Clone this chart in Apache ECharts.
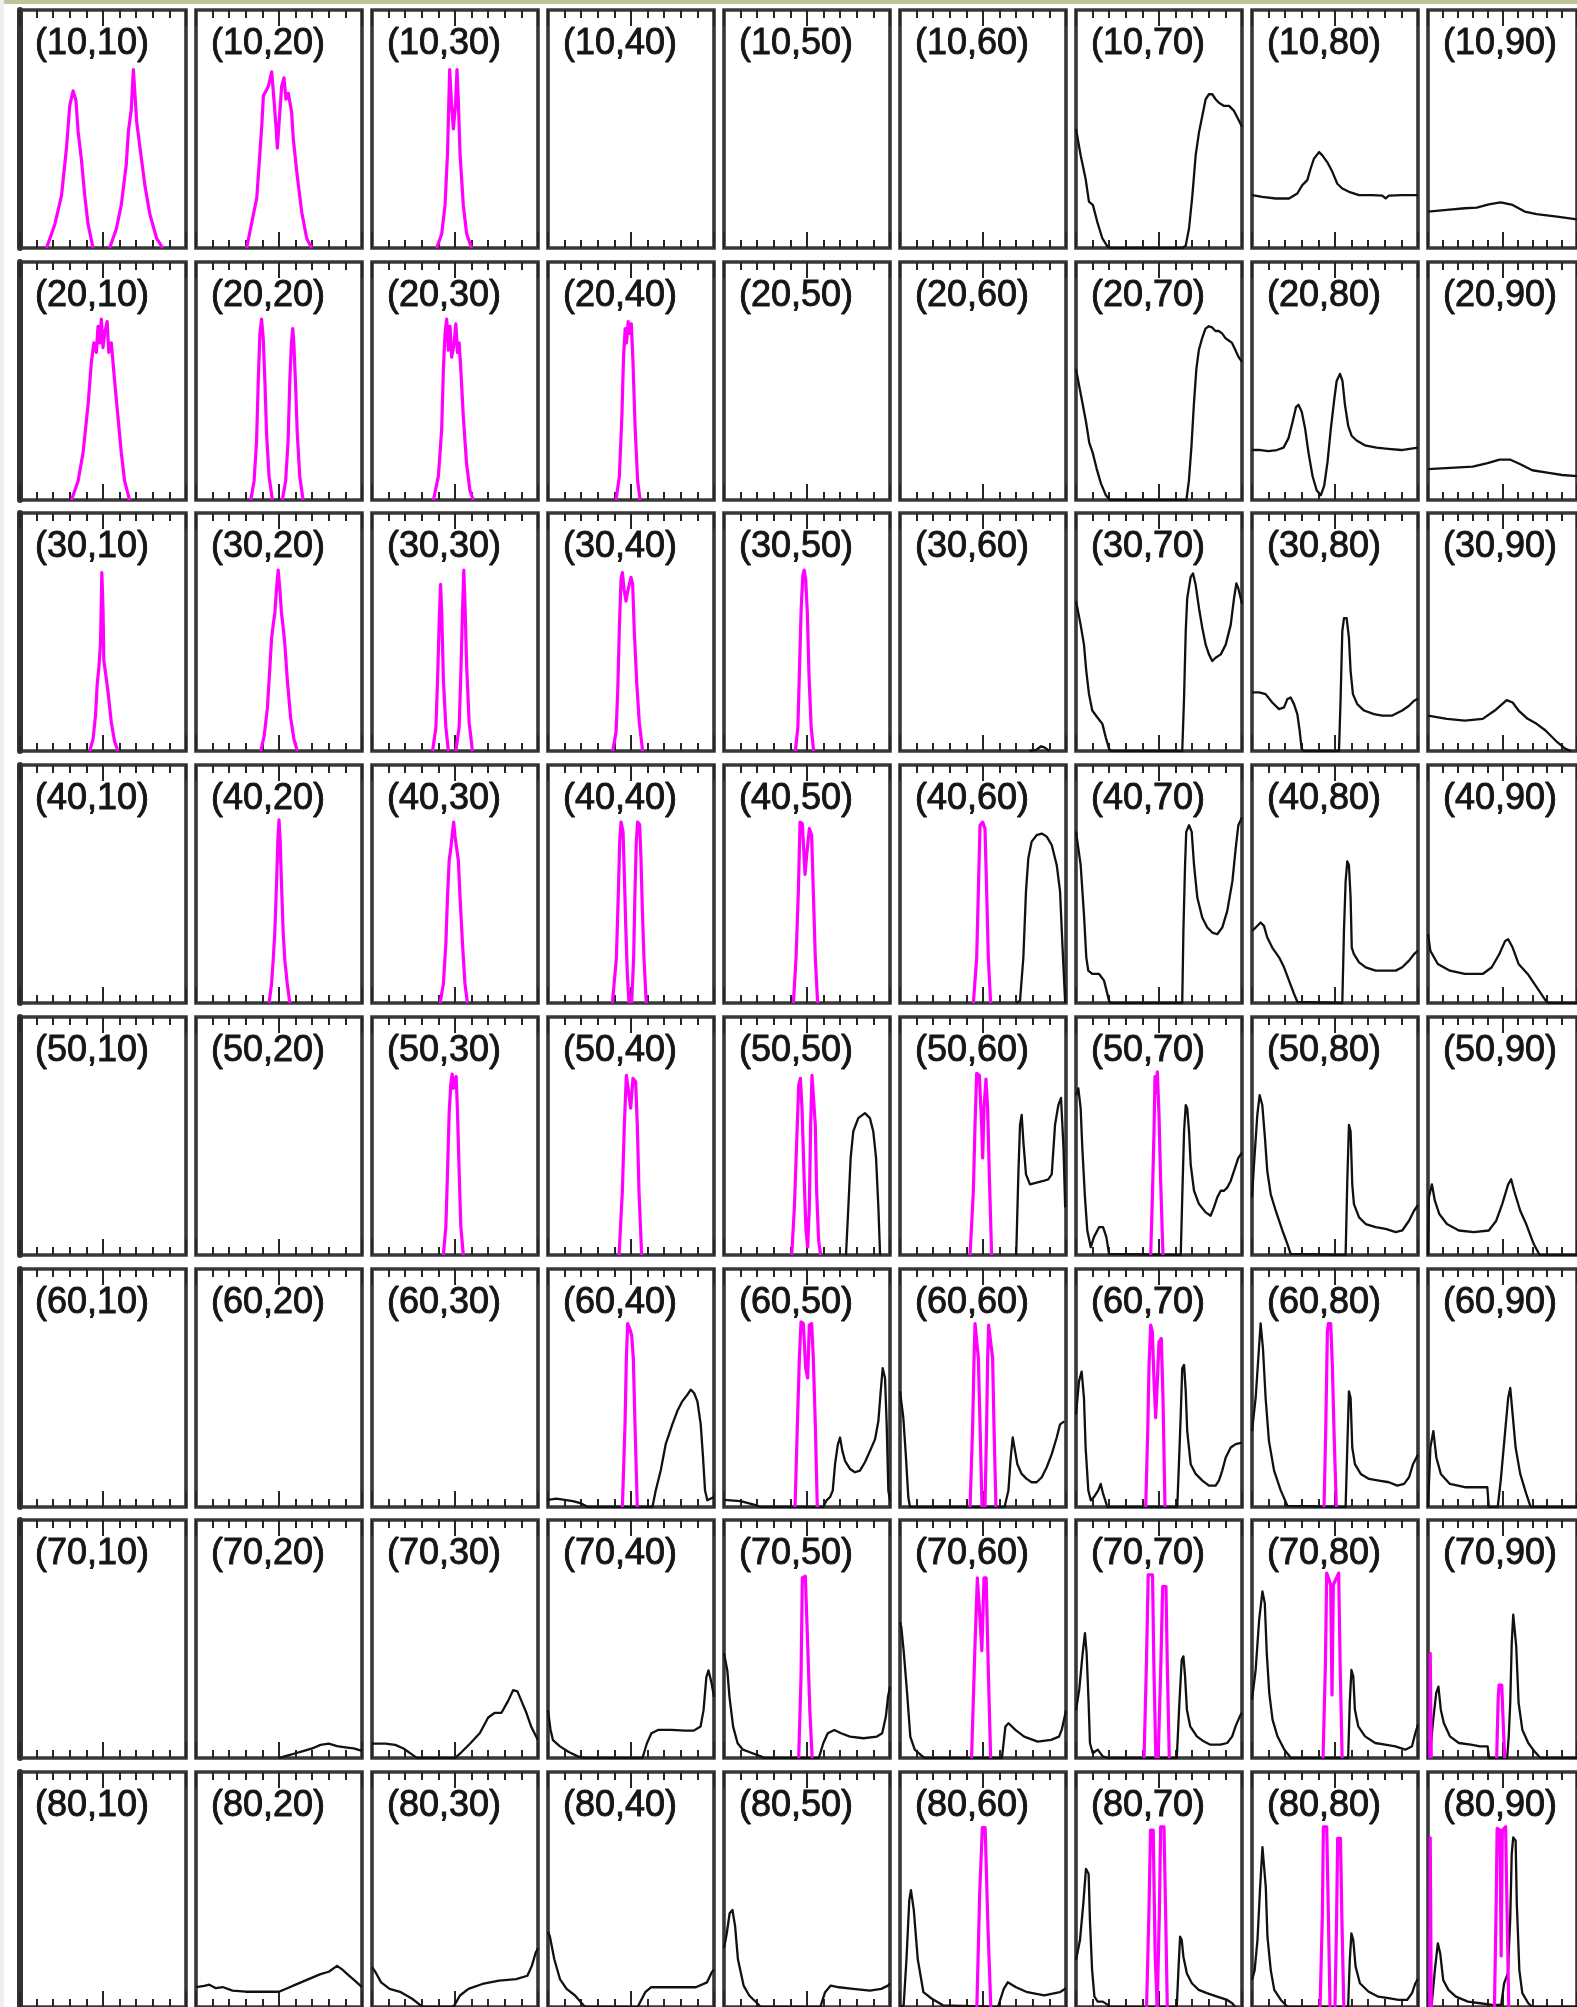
<!DOCTYPE html>
<html>
<head>
<meta charset="utf-8">
<script src="https://cdn.jsdelivr.net/npm/echarts@6/dist/echarts.min.js"></script>
<style>
  html, body { margin: 0; padding: 0; background: #ffffff; }
  #chart { width: 1577px; height: 2007px; }
</style>
</head>
<body>
<div id="chart"></div>
<script>
// Panel grid: rows and columns of (row,col) settings
const rowVals = [10, 20, 30, 40, 50, 60, 70, 80];
const colVals = [10, 20, 30, 40, 50, 60, 70, 80, 90];

// Curves: [x, y] in percent of panel width / height. m_* magenta, k_* black.
// row 10
const m_10_10a = [[16,0],[21,10],[25,22],[28,42],[30,60],[32,66],[33.7,62],[35,49],[37,37],[39,22],[41,10],[44,0]];
const m_10_10b = [[54,0],[58,8],[61,18],[64,35],[65.3,49],[67,58],[68.3,75],[69.3,64],[70.3,53],[72.3,42],[75.3,26],[78.3,14],[82.3,4],[86,0]];
const m_10_20 = [[30.5,0],[36.6,21],[39.6,51],[40.6,64],[43.6,68],[45.6,74],[47,62],[48.2,51],[49,42],[50.2,54],[51.6,68],[53,71.5],[54.2,62.5],[55.6,65],[57.6,57],[58.6,46],[60.7,32],[63.7,15],[66.7,4],[69.7,0]];
const m_10_30 = [[39,0],[42,6],[44,18],[45.5,40],[46.3,62],[46.8,75],[47.8,62],[49,50],[50.3,60],[51.2,75],[52,62],[53,40],[55,18],[57,6],[60,0]];
const k_10_70 = [[0,50],[2.8,39],[5.8,29],[7.8,19.5],[10.2,18],[12.8,11],[15.9,4],[18.9,0.7],[21,0],[64,0],[66.1,1],[68.1,8.3],[70.1,22],[72.1,39],[74.1,48.6],[76.1,55.6],[78.1,62.5],[80.1,64.6],[82.1,64.6],[84.1,62.5],[86.1,61],[89.2,59.7],[92.2,59.7],[95.2,57.6],[98.2,53.5],[100,51]];
const k_10_80 = [[0,22.2],[6.2,21.5],[14.3,20.8],[22.3,20.8],[27.3,22.9],[30.3,26.4],[33.3,28.5],[35.3,33.3],[37.3,37.5],[40.4,40.3],[42.4,38.9],[45.4,36],[48.4,32],[51.4,27],[54.4,25],[58.4,23.6],[64.5,22.2],[72.5,22.2],[78.5,22],[80.5,20.8],[82.5,22],[90.5,22.2],[100,22.2]];
const k_10_90 = [[0,15.3],[12.7,16],[24.7,16.7],[32.7,17],[40.8,18.3],[48.8,19.2],[56.8,18.1],[64.9,15.3],[72.9,14.2],[86.6,13.2],[100,12]];
// row 20
const m_20_10 = [[31,0],[35,8],[38,20],[41,40],[43,58],[44.5,66],[46,62],[47,73],[48,66],[49,76],[50,64],[51,70],[52.5,75],[53.5,62],[55,66],[57,50],[59,35],[61,20],[63,8],[66,0]];
const m_20_20a = [[33,0],[35,8],[36.5,25],[37.5,50],[38.5,70],[39.5,76],[40.5,68],[41.5,50],[42.5,28],[44,10],[46,0]];
const m_20_20b = [[52,0],[54,8],[55.5,25],[56.5,50],[57.5,66],[58.3,72],[59,65],[60,48],[61,28],[62.5,10],[64.5,0]];
const m_20_30 = [[37,0],[40,10],[42,30],[43,55],[44,70],[45,76],[46,63],[47,73],[48,60],[49.5,66],[50.5,74],[51.5,62],[52.5,66],[53.5,55],[55,35],[57,15],[59,4],[61,0]];
const m_20_40 = [[41,0],[43,10],[44.5,35],[45.5,60],[46.5,72],[47.3,66],[48.3,75],[49.2,70],[50.2,74],[51.2,58],[52.5,30],[54,8],[55.5,0]];
const k_20_70 = [[0,55],[3,44],[6,33],[8,24],[10,20],[12.5,13],[15,7],[18,2],[20.5,0],[66.5,0],[68,8],[69.5,22],[71,40],[72.5,55],[74,63],[76,68],[78,72],[80,73],[82,72.5],[84,71],[86,71],[88,70],[90,68],[92,67],[94,66],[96,63],[98,60],[100,58]];
const k_20_80 = [[0,21],[5,21],[10,20.5],[15,21],[19,22],[22,26],[24.5,33],[26.5,39],[28,40],[30,37],[32,30],[34,20],[36.5,10],[39,4],[41.5,2],[43.5,6],[45.5,16],[47.5,30],[49.5,42],[51,50],[53,53],[54.5,50],[56,40],[58,31],[60,27],[63,25],[68,23],[75,22],[82,21.5],[90,21],[100,22]];
const k_20_90 = [[0,13],[15,13.5],[30,14],[40,15.5],[48,17],[55,17],[62,15],[70,12.5],[80,11.5],[90,10.5],[100,10]];
// row 30
const m_30_10 = [[42,0],[44,5],[45.5,15],[46.5,28],[47.5,35],[48.5,45],[49.3,75],[50,60],[50.5,38],[51.5,33],[53,25],[55,12],[57,4],[59,0]];
const m_30_20 = [[39,0],[41,6],[43,18],[44.5,35],[45.5,47],[46.5,53],[47.5,58],[48.5,68],[49.5,76],[50.5,68],[51.5,58],[52.5,52],[53.5,45],[55,30],[57,14],[59,5],[61,0]];
const m_30_30a = [[36.5,0],[38.5,10],[39.5,30],[40.5,55],[41.3,70],[42,58],[43,30],[44.5,10],[46,0]];
const m_30_30b = [[50.5,0],[52.5,10],[53.5,32],[54.5,58],[55.3,76],[56,62],[57,36],[58.5,12],[60.5,0]];
const m_30_40 = [[39,0],[41,8],[42,25],[43,52],[44,72],[44.8,75],[45.8,68],[47,63],[48,67],[49,70],[50,73],[51,70],[52,50],[53.5,28],[55,12],[57,0]];
const m_30_50 = [[43,0],[44.5,10],[45.5,35],[46.5,60],[47.5,74],[48.3,76],[49.2,72],[50.2,58],[51.2,32],[52.5,10],[54,0]];
const k_30_60 = [[78,0],[82,0.5],[85,2],[87,1.5],[90,0]];
const k_30_70 = [[0,63],[2.8,53],[4.8,44.7],[6.2,33.6],[7.8,24],[9.8,17],[12.8,14.2],[15.9,11.4],[17.9,5.8],[19.9,1],[21,0],[64,0],[65.1,22.5],[66.1,50.3],[67,64.2],[69.1,73.2],[70.5,74.6],[72.1,69.7],[74.1,60],[76.1,51.7],[78.1,44.7],[80.1,40.6],[82.1,37.8],[84.1,39.2],[87.2,40.6],[90.2,44.7],[93.2,53],[95.2,64.2],[96.6,70.4],[97.8,68.3],[100,62]];
const k_30_80 = [[0,24.6],[4.2,24.6],[8.2,23.9],[12.2,20.4],[16.3,17.6],[19.3,18.3],[21.3,21.8],[23.3,22.5],[25.3,19.7],[27.3,15.5],[28.7,8.6],[29.9,1],[31,0],[52.4,0],[53.4,22.5],[54.4,50.3],[55.4,55.8],[57,55.8],[58.4,47.5],[59.4,33.6],[60.8,23.9],[63.4,19.7],[67.5,17],[73.5,15.5],[78.5,14.9],[84.5,14.9],[90.5,17],[94.6,19],[97.6,21.1],[100,22]];
const k_30_90 = [[0,14.9],[12.7,13.5],[24.7,12.8],[36.7,13.5],[44.8,17],[52.8,21.4],[56.8,20.4],[60.8,17],[66.9,13.5],[72.9,11.4],[78.9,8.6],[86.6,3.8],[92,1],[96,0]];
// row 40
const m_40_20 = [[44,0],[45.5,8],[46.5,18],[47.5,30],[48.5,50],[49.3,68],[50,77],[50.7,68],[51.5,50],[52.5,30],[53.5,18],[55,8],[56.5,0]];
const m_40_30 = [[41,0],[43,8],[44.5,25],[45.5,45],[46.5,60],[47.5,65],[48.5,72],[49.2,76],[50,70],[51,65],[52,60],[53,45],[54.5,25],[56,8],[57.5,0]];
const m_40_40a = [[38.8,0],[41.2,19],[42.4,47],[43.2,68],[44,76],[45.2,72],[46,54],[46.8,33],[47.8,12],[48.8,0]];
const m_40_40b = [[50.4,0],[51.6,19],[52.4,47],[53.2,68],[54,76],[55.2,75],[56,61],[56.8,40],[57.8,19],[59.2,0]];
const m_40_50 = [[41.8,0],[43.4,19],[44.8,47],[45.8,76],[47.2,75.4],[48.8,54],[49.8,62],[51.4,73.3],[52.8,70.5],[53.8,47],[55,19],[56.4,0]];
const m_40_60 = [[44.2,0],[46.2,19],[47.2,47],[48.2,74.7],[49.8,76],[51.2,73.3],[52.2,47],[53.2,19],[54.6,0]];
const k_40_60 = [[70,0],[72.3,1],[74.3,19],[75.9,47],[77.3,60.8],[79.3,67.8],[82.3,70.5],[85.4,71.2],[88.4,69.9],[91.4,66.4],[94.4,58],[96.4,47],[98,22],[99.5,0]];
const k_40_70 = [[0,72],[2.8,58],[4.8,37.2],[6.2,19.2],[7.4,13.6],[9.8,12.2],[13.9,12.2],[16.9,9.4],[19.9,1],[21,0],[64,0],[64.7,30.3],[65.7,58],[66.4,71.9],[68.1,74.7],[69.7,71.9],[71.1,58],[73.1,44.2],[76.1,35.8],[79.1,31.7],[82.1,29.6],[85.1,28.9],[88.1,31.7],[91.1,38.6],[94.2,51.1],[96.2,65],[97.8,74.7],[100,78]];
const k_40_80 = [[0,30.3],[2.2,31.7],[5.2,33.8],[7.2,32.4],[9.2,27.5],[12.2,23.3],[16.3,19.2],[19.3,15],[22.3,9.4],[25.3,3.9],[27.3,0.5],[28,0],[54.4,0],[55.4,30.3],[56.4,51.1],[57.4,59.5],[58.4,58],[59.4,44.2],[60.1,23.3],[61.4,20.5],[64.5,17.1],[68.5,15],[74.5,13.6],[80.5,13.6],[86.6,13.6],[90.5,15],[94.6,17.8],[97.6,20.5],[100,22]];
const k_40_90 = [[0,28.9],[1.6,21.9],[6.6,16.4],[14.7,13.6],[24.7,12.2],[36.7,12.2],[42.8,15],[47.8,20.5],[51.8,26.1],[53.8,26.8],[56.8,23.3],[60.8,16.4],[66.9,12.2],[72.9,6.7],[78.9,1.1],[81,0],[100,0]];
// row 50
const m_50_30 = [[43,0],[44.5,12],[45.5,35],[46.5,60],[47.5,72],[48.3,76],[49,70],[49.8,74],[50.7,75],[51.5,60],[52.5,35],[53.5,12],[55,0]];
const m_50_40 = [[42.8,0],[44.8,27],[46,54.7],[47.2,75.5],[48.4,76.3],[49.8,61.7],[51.2,74.2],[52.8,72.8],[53.8,54.7],[54.8,27],[56.4,0]];
const m_50_50 = [[40.8,0],[42.4,20],[43.8,47.8],[45,71.4],[46,74.2],[47,61.7],[48.2,33.9],[49.4,10.3],[50.4,3.3],[51.4,20],[52.2,54.7],[53,75.5],[54.2,76.3],[55,54.7],[55.8,27],[57,6.1],[58.2,0]];
const k_50_50 = [[73.5,0],[74.9,20],[76.3,40.8],[77.9,52],[80.9,57.5],[84.9,59.6],[87.9,57.5],[89.9,52],[91.6,40.8],[93,20],[94,0.5],[94.5,0]];
const m_50_60 = [[42.2,0],[44.2,27],[45.2,54.7],[46.2,76.3],[47.8,75.5],[49.2,54.7],[49.8,40.8],[50.6,61.7],[51.8,73.9],[52.8,61.7],[53.8,33.9],[55.2,0]];
const k_50_60 = [[70,0],[71.3,33.9],[72.3,54.7],[73.3,58.9],[74.3,47.8],[75.9,33.9],[78.3,29.7],[82.3,30.4],[86.3,31.1],[89.3,31.8],[91.4,33.9],[93.4,54.7],[95.4,63],[97,66],[98.5,45],[99.5,20]];
const m_50_70 = [[45,0],[46,24],[47,52],[47.6,75],[48.3,68],[49,77],[50,59],[51,31],[52.4,0]];
const k_50_70 = [[0,67.2],[1.4,70],[2.8,61.7],[3.8,45],[5.4,24.2],[6.8,10.3],[8.9,3.3],[10.8,7.5],[13.9,11.7],[16.3,11.7],[18.3,7.5],[19.9,0.5],[21,0],[63.1,0],[64,24.2],[65.1,51.9],[66.1,63],[67,61.7],[68.1,51.9],[69.1,38],[71.1,27],[74.1,21.4],[78.1,17.9],[81.1,16.5],[83.1,20],[85.1,24.2],[87.2,27],[89.2,27],[91.1,28.3],[93.2,31.1],[95.2,35.3],[97.8,40.8],[100,43]];
const k_50_80 = [[0,24.2],[1.2,38],[3.2,58.9],[4.6,67.2],[6.2,63],[7.8,49.2],[9.2,35.3],[11.3,25.5],[14.3,18.6],[18.3,10.3],[21.3,4.7],[23.3,0.5],[24,0],[56.4,0],[57.4,31.1],[58.4,54.7],[59.4,51.9],[60.4,29.7],[61.4,21.4],[64.5,15.8],[68.5,13],[74.5,11.7],[80.5,11],[86.6,9.6],[90.5,10.3],[94.6,14.4],[97.6,18.6],[100,21]];
const k_50_90 = [[0,0],[0.6,24.2],[2.6,29.7],[4.6,22.8],[7.6,17.2],[12.7,13],[20.7,10.3],[30.7,9.6],[40.8,10.3],[45.8,14.4],[49.8,21.4],[53.8,29.7],[55.8,31.8],[57.8,27],[61.9,18.6],[65.9,13],[70.9,4.7],[74.9,0],[100,0]];
// row 60
const k_60_40 = [[0,3],[5,3.5],[10,3],[15,2.5],[20,1.5],[24,0],[62.9,0],[64.9,6.9],[67.9,15.3],[70.9,26.4],[72.9,30.5],[74.9,34.7],[77.9,40.3],[80.9,44.4],[84,47.2],[86,49.3],[88,47.9],[90,44.4],[92,34.7],[93.4,20.8],[94.6,6.9],[96,2.8],[100,4.2]];
const m_60_40 = [[44.8,0],[46.4,34.7],[47.2,62.5],[48,77.1],[49.2,75],[50.4,72.2],[51.4,62.5],[52.4,34.7],[53.8,0]];
const k_60_50 = [[0,3],[10,2.5],[18,1],[22,0],[59.8,0],[61.8,2.8],[63.9,4.2],[65.5,6.9],[66.9,18],[68.5,26],[69.9,29.2],[71.3,23.6],[72.9,19.4],[75.9,16],[78.9,14.6],[81.9,15.3],[84.9,18.8],[88,23.6],[91,28.5],[93,36.1],[94.4,48.6],[95.6,58.3],[97,54.2],[98,34.7],[99,6.9],[100,2.8]];
const m_60_50 = [[42.8,0],[44.2,34.7],[45.4,62.5],[46.4,77.8],[47.8,77.1],[49.2,58.3],[50.4,54.2],[51.4,76.4],[52.8,77.1],[53.8,62.5],[55,34.7],[56.2,0]];
const k_60_60 = [[0,48.6],[2,37.5],[3.6,20.8],[5,4.2],[6,0],[63,0],[65.3,6.9],[66.7,20.8],[67.9,29.2],[69.3,23.6],[70.7,18],[73.3,13.9],[76.3,11.8],[79.3,10.4],[82.3,10.4],[85.4,12.5],[88.4,16.7],[91.4,22.2],[94.4,29.2],[96.4,34.7],[99,36]];
const m_60_60a = [[42.2,0],[43.8,34.7],[44.6,62.5],[45.2,77.1],[46.2,76.4],[47.2,62.5],[48.2,34.7],[49.4,0]];
const m_60_60b = [[51.2,0],[52.2,34.7],[52.8,62.5],[53.4,76.4],[54.6,76.4],[55.8,62.5],[56.6,34.7],[57.8,0]];
const k_60_70 = [[0,38.9],[1.8,52.8],[3.4,56.9],[4.8,45.8],[5.8,25],[7.4,7],[8.9,2.8],[10.8,4.2],[13.4,7],[14.9,9.7],[16.3,5.6],[18.9,0],[61,0],[62,18],[63.1,38.9],[64,58.3],[65.1,59.7],[66.1,48.6],[67,31.9],[69.1,18],[72.1,13.9],[76.1,11.1],[80.1,9],[84.1,9],[86.1,11.1],[88.1,15.3],[90.2,20.8],[93.2,25],[96.2,26.4],[100,27]];
const m_60_70 = [[42,0],[43.2,31.9],[44,59.7],[45,76.4],[46,73.6],[47,52.8],[48,37.5],[49,52.8],[50,69.4],[51.4,70.8],[52.4,45.8],[53.6,0]];
const k_60_80 = [[0,31.9],[2.2,45.8],[4.2,66.7],[5.2,77.1],[6.6,66.7],[8.2,45.8],[10.2,27.8],[13.3,15.3],[17.3,7],[21.3,0.5],[22,0],[56.4,0],[57.4,25],[58.4,48.6],[59.4,45.8],[60.4,25],[62,18],[65.5,13.9],[70.5,11.8],[76.5,11.1],[82.5,10.4],[87.5,9],[91.6,9.7],[94.6,12.5],[97,18],[100,22]];
const m_60_80 = [[43.4,0],[44.4,31.9],[45.4,73.6],[46,77.1],[47.4,77.1],[48.4,59.7],[49.4,31.9],[50.8,0]];
const k_60_90 = [[0,0],[1.6,25],[3.6,31.9],[5.6,20.8],[8.6,13.9],[14.7,9.7],[24.7,8.3],[32.7,8.3],[39.8,8.3],[40.8,0],[46.8,0],[48.8,11.1],[51.8,31.9],[53.8,45.8],[55.2,50],[56.8,38.9],[58.8,25],[61.9,13.9],[65.9,5.6],[68.9,0],[100,0]];
// row 70
const k_70_20 = [[50,0],[55,1],[60,2],[65,3],[70,4],[75,5.5],[80,6],[85,5],[90,4.5],[95,4],[100,3]];
const k_70_30 = [[0,6],[8,6],[14,5.5],[19,4],[24,1.5],[27,0],[50,0],[54,2.5],[59,6],[65,10.5],[70,17],[74,19],[78,19],[82,24],[85,28.5],[87.6,28],[90,24],[93,19],[96,13],[100,7.5]];
const k_70_40 = [[0,20],[1.5,12],[3,7.5],[7,5],[12.5,2.5],[18,0.7],[22,0],[56.9,0],[59.6,6.2],[62.3,10.4],[66.3,11.8],[74.4,11.8],[82.5,11.5],[87.8,11.5],[91.9,13.2],[93.7,20.1],[95.4,34],[96.7,36.8],[98.6,31.3],[100,25.7]];
const k_70_50 = [[0,44],[2,36.8],[3.3,25.7],[5.5,13.2],[8.2,6.2],[11.4,3.5],[16.8,2.1],[22.2,0.7],[24,0],[57.1,0],[59.8,6.2],[62.5,10.4],[66.5,11.8],[70.5,10.4],[75.9,9],[84,8.3],[92.1,9],[95.3,10.4],[97.5,17.4],[98.8,25.7],[100,30]];
const m_70_50 = [[45,0],[46.4,34],[47.2,75.7],[49,76.4],[50.4,47.9],[51.7,20.1],[53.1,0]];
const k_70_60 = [[0,57],[0.8,54.9],[2.2,45.1],[4.3,27.1],[6.2,9],[8.9,3.5],[13,1],[15,0],[61.4,0],[63.5,13.2],[65.4,14.6],[69.5,11.8],[74.8,9],[82.9,6.9],[91,7.6],[95.8,9],[97.5,12],[100,20]];
const m_70_60 = [[43.1,0],[45.2,47.9],[46.6,75.7],[47.9,61.8],[49.3,45.1],[50.6,75.7],[51.9,75.7],[53.3,34],[54.6,0]];
const k_70_70 = [[0,20],[2,29],[4,44],[5.4,52.5],[6.4,44],[7.6,23.3],[8.4,6.3],[10.1,2],[13.1,3.5],[16.1,0.7],[19.2,0],[60.7,0],[62.3,23.3],[63.7,41.3],[64.7,42.7],[65.7,34.3],[66.8,20.3],[68.8,13.3],[72.8,9.1],[76.9,7],[80.9,5.6],[87,5.6],[91.1,6.3],[94.1,9.1],[96.1,13.3],[98.7,17.5],[100,19]];
const m_70_70a = [[41,0],[42.4,39],[43.5,77],[46.1,77],[46.9,39],[48.1,0]];
const m_70_70b = [[49.5,0],[51.1,39],[52.2,72],[54.2,72],[55,39],[56.2,0]];
const k_70_80 = [[0,24.5],[2.2,37],[4.3,58],[6.3,70],[7.7,65],[8.9,44],[10.4,27.3],[12.4,16],[15.4,9],[19.5,3.5],[23.5,0],[57.9,0],[58.9,23.3],[59.9,37],[61,34.3],[62,20.3],[64,13.3],[68.1,9.1],[74.2,6.3],[80.2,5.6],[86.3,4.9],[92.4,3.5],[96.4,4.9],[98.4,10.5],[100,14]];
const m_70_80 = [[42.8,0],[44.2,39],[45,77.7],[47.4,72.8],[48.2,26.5],[49,72.8],[52.2,77.7],[53.1,39],[54.3,0]];
const k_70_90 = [[0,0],[1.5,3],[3.5,16],[5.5,27.3],[7,30],[8.6,20.3],[10.6,14.7],[14.7,9.1],[20.7,6.3],[28.8,5.6],[34.9,4.9],[40,4.9],[41,0],[53.1,0],[54.2,9.1],[55.2,23.3],[56.2,48.3],[57.2,60.2],[58.2,59.5],[59.2,47],[60.8,23.3],[63.3,11.9],[67.3,6.3],[71.4,2.8],[75.4,0],[100,0]];
const m_70_90a = [[1.2,0],[1.5,44],[2.2,0]];
const m_70_90b = [[46.1,0],[47.1,25.3],[47.7,30.6],[49.5,30.6],[50.7,11.1],[51.5,0]];
// row 80
const k_80_20 = [[0,8.5],[5,9],[8,9.5],[12,8],[16,8.5],[22,7],[30,6.5],[40,6.5],[50,6.5],[55,8],[60,9.5],[65,11],[70,12.5],[75,14],[80,15],[85,17.5],[88,16],[92,13.5],[96,11],[100,8.5]];
const k_80_30 = [[0,17],[2.2,14.7],[5.5,10.5],[10.6,7.7],[17.4,6.3],[24.2,3.5],[29.3,0.7],[31,0],[48,0],[49.6,0.7],[53,4.9],[58.1,7.7],[66.5,9.8],[76.6,11.2],[86.8,11.9],[93.6,13.3],[96.3,17.5],[98.6,23.1],[100,25]];
const k_80_40 = [[0,32],[1.1,30.1],[3.8,20.3],[7.2,11.9],[11.2,7.7],[16.3,4.9],[21.4,0.7],[23,0],[54,0],[55.2,0.7],[58.6,6.3],[62,8.4],[68.8,8.4],[78.9,8.4],[89.1,8.4],[95.8,10.5],[98.6,14.7],[100,16]];
const k_80_50 = [[0,25],[1.7,31.5],[3.4,39.9],[5.1,41.3],[6.7,34.3],[8.4,20.3],[11.8,9.1],[15.2,4.9],[20.3,1.4],[22,0],[58,0],[59.2,0.7],[60.9,6.3],[64.3,9.1],[69.3,8.4],[77.8,7.7],[87.9,7],[94.7,7.7],[98.8,9.1],[100,10]];
const k_80_60 = [[0,0],[2.2,0.7],[3.9,20.3],[5.6,45.5],[6.6,49.7],[8.3,41.3],[10.7,20.3],[14.1,6.3],[19.2,3.5],[25.9,0.7],[27,0],[59,0],[59.8,0.7],[62.5,7.7],[64.9,10.5],[69.9,8.4],[76.7,6.3],[86.9,4.9],[96.3,6.3],[100,8]];
const m_80_60 = [[46.3,0],[48,48.3],[49.6,76.3],[51.3,76.3],[53,33.6],[54.7,0]];
const k_80_70 = [[0,20],[2.4,28.5],[4.4,44],[6,58.8],[7.6,56.7],[8.4,37],[9.7,15.7],[11.1,4.4],[13.1,2.3],[16.1,2.3],[19.2,0.9],[20,0],[60.7,0],[61.7,15.7],[62.7,29.9],[63.7,28.5],[64.7,21.4],[66.8,14.3],[69.8,10.1],[73.9,7.3],[78.9,5.9],[85,4.4],[91.1,3],[94.1,1.6],[96,0]];
const m_80_70a = [[42.5,0],[43.9,39.4],[44.9,75.3],[46.5,75.3],[47.7,21.7],[48.9,0]];
const m_80_70b = [[48.9,0],[50.2,39.4],[51,76.7],[53,76.7],[54,39.4],[55,0]];
const k_80_80 = [[0,11.5],[1.6,15.7],[3.3,28.5],[4.9,51],[6.3,68],[7.3,68.7],[8.3,51],[9.3,29.9],[11.3,15.7],[13.4,7.3],[17.4,3],[21.5,0],[57.9,0],[58.9,20],[59.9,31.3],[61,28.5],[62.4,17.2],[65,10.1],[70.1,6.6],[76.1,4.4],[82.2,3.8],[88.3,3],[93.4,3],[96.4,5.9],[98.4,10.1],[100,12]];
const m_80_80a = [[41,0],[42.4,39.4],[43,76.7],[45,76.7],[46,39.4],[47,0]];
const m_80_80b = [[50,0],[51,39.4],[51.6,71.8],[53.3,71.8],[54.1,39.4],[55.3,0]];
const k_80_90 = [[0,0],[2.5,1],[4.6,15.7],[6.6,27.1],[8.2,22.8],[10.2,11.5],[13.7,7.3],[18.7,4.4],[26.8,2.3],[34.9,1.6],[43,0.9],[49.1,0.9],[51.1,10.1],[53.6,14.3],[55.2,37.7],[56.2,65.2],[57.2,72.2],[58.8,70.8],[59.6,44],[61.3,15.7],[63.3,5.9],[67.3,1.6],[70,0],[100,0]];
const m_80_90a = [[1.2,0],[1.5,72],[2.2,0]];
const m_80_90b = [[44.6,0],[45.8,45.7],[46.4,76],[48.3,75.3],[49.1,21.7],[49.9,75.3],[52.1,76.7],[53.1,39.4],[54.2,0]];

// Which curve goes in which panel: [rowIndex, colIndex, kind, data]
const panelCurves = [
  [0,0,'m',m_10_10a],[0,0,'m',m_10_10b],[0,1,'m',m_10_20],[0,2,'m',m_10_30],
  [0,6,'k',k_10_70],[0,7,'k',k_10_80],[0,8,'k',k_10_90],
  [1,0,'m',m_20_10],[1,1,'m',m_20_20a],[1,1,'m',m_20_20b],[1,2,'m',m_20_30],[1,3,'m',m_20_40],
  [1,6,'k',k_20_70],[1,7,'k',k_20_80],[1,8,'k',k_20_90],
  [2,0,'m',m_30_10],[2,1,'m',m_30_20],[2,2,'m',m_30_30a],[2,2,'m',m_30_30b],[2,3,'m',m_30_40],[2,4,'m',m_30_50],
  [2,5,'k',k_30_60],[2,6,'k',k_30_70],[2,7,'k',k_30_80],[2,8,'k',k_30_90],
  [3,1,'m',m_40_20],[3,2,'m',m_40_30],[3,3,'m',m_40_40a],[3,3,'m',m_40_40b],[3,4,'m',m_40_50],
  [3,5,'k',k_40_60],[3,5,'m',m_40_60],[3,6,'k',k_40_70],[3,7,'k',k_40_80],[3,8,'k',k_40_90],
  [4,2,'m',m_50_30],[4,3,'m',m_50_40],[4,4,'k',k_50_50],[4,4,'m',m_50_50],
  [4,5,'k',k_50_60],[4,5,'m',m_50_60],[4,6,'k',k_50_70],[4,6,'m',m_50_70],[4,7,'k',k_50_80],[4,8,'k',k_50_90],
  [5,3,'k',k_60_40],[5,3,'m',m_60_40],[5,4,'k',k_60_50],[5,4,'m',m_60_50],
  [5,5,'k',k_60_60],[5,5,'m',m_60_60a],[5,5,'m',m_60_60b],[5,6,'k',k_60_70],[5,6,'m',m_60_70],
  [5,7,'k',k_60_80],[5,7,'m',m_60_80],[5,8,'k',k_60_90],
  [6,1,'k',k_70_20],[6,2,'k',k_70_30],[6,3,'k',k_70_40],[6,4,'k',k_70_50],[6,4,'m',m_70_50],
  [6,5,'k',k_70_60],[6,5,'m',m_70_60],[6,6,'k',k_70_70],[6,6,'m',m_70_70a],[6,6,'m',m_70_70b],
  [6,7,'k',k_70_80],[6,7,'m',m_70_80],[6,8,'k',k_70_90],[6,8,'m',m_70_90a],[6,8,'m',m_70_90b],
  [7,1,'k',k_80_20],[7,2,'k',k_80_30],[7,3,'k',k_80_40],[7,4,'k',k_80_50],
  [7,5,'k',k_80_60],[7,5,'m',m_80_60],[7,6,'k',k_80_70],[7,6,'m',m_80_70a],[7,6,'m',m_80_70b],
  [7,7,'k',k_80_80],[7,7,'m',m_80_80a],[7,7,'m',m_80_80b],[7,8,'k',k_80_90],[7,8,'m',m_80_90a],[7,8,'m',m_80_90b]
];

// Layout of the panel matrix (pixels)
const PANEL_LEFT0 = 20, PANEL_DX = 176, PANEL_W = 166;
const PANEL_TOP0 = 10, PANEL_DY = 251.7, PANEL_H = 238;
const FRAME = '#383838';
const INK = '#262626';
const COLORS = { m: '#ff00ff', k: '#111111' };
const WIDTHS = { m: 3.2, k: 2.3 };

const grids = [], xAxes = [], yAxes = [], series = [], graphics = [];

// page-edge strips
graphics.push({ type: 'rect', shape: { x: 0, y: 0, width: 1577, height: 4 }, style: { fill: '#c2c29a' }, z: 100 });
graphics.push({ type: 'rect', shape: { x: 0, y: 0, width: 4, height: 2007 }, style: { fill: '#efefef' }, z: 100 });

function tickAxis(gridIndex, position) {
  return {
    gridIndex, type: 'value', position, min: 0, max: 100, interval: 50,
    axisLine: { show: false },
    axisLabel: { show: false },
    splitLine: { show: false },
    axisTick: { show: true, inside: true, length: 16, lineStyle: { color: INK, width: 2 } },
    minorTick: { show: true, splitNumber: 5, length: 8, lineStyle: { color: INK, width: 2 } },
    minorSplitLine: { show: false }
  };
}

rowVals.forEach((rv, r) => {
  colVals.forEach((cv, c) => {
    const gi = r * colVals.length + c;
    const left = PANEL_LEFT0 + c * PANEL_DX;
    const top = Math.round(PANEL_TOP0 + r * PANEL_DY);
    grids.push({
      left, top, width: PANEL_W, height: PANEL_H,
      show: true, borderWidth: 3.6, borderColor: FRAME, backgroundColor: '#ffffff'
    });
    xAxes.push(tickAxis(gi, 'bottom'));
    xAxes.push(tickAxis(gi, 'top'));
    yAxes.push({
      gridIndex: gi, type: 'value', min: 0, max: 100,
      axisLine: { show: c === 0, lineStyle: { color: '#333333', width: 6 } },
      axisLabel: { show: false }, axisTick: { show: false }, splitLine: { show: false }
    });
    graphics.push({
      type: 'text', x: left + 15, y: top + 34, z: 50,
      style: {
        text: '(' + rv + ',' + cv + ')',
        fontSize: 36, fontFamily: '"Liberation Sans", Arial, Helvetica, sans-serif',
        fill: '#151515', stroke: '#151515', lineWidth: 0.9,
        align: 'left', verticalAlign: 'middle'
      }
    });
  });
});

panelCurves.forEach(([r, c, kind, data]) => {
  const gi = r * colVals.length + c;
  series.push({
    type: 'line',
    xAxisIndex: gi * 2,
    yAxisIndex: gi,
    data: data,
    showSymbol: false,
    symbol: 'none',
    smooth: false,
    silent: true,
    clip: true,
    z: kind === 'm' ? 3 : 2,
    lineStyle: { color: COLORS[kind], width: WIDTHS[kind], join: 'round' }
  });
});

const chart = echarts.init(document.getElementById('chart'), null, { renderer: 'canvas' });
chart.setOption({
  animation: false,
  backgroundColor: '#ffffff',
  grid: grids,
  xAxis: xAxes,
  yAxis: yAxes,
  series: series,
  graphic: graphics
});
</script>
</body>
</html>
